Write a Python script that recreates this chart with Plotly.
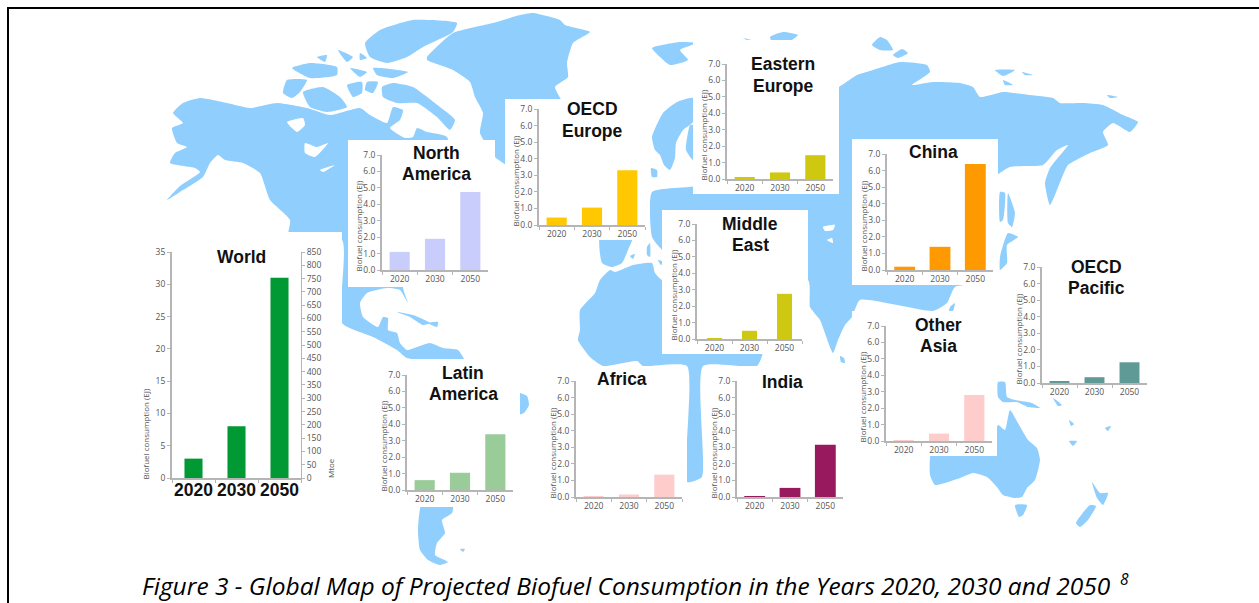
import plotly.graph_objects as go

W, H = 1259, 603
YEARS = ["2020", "2030", "2050"]

# ---------- data ----------
world = [3, 8, 31]
north_america = [1.1, 1.9, 4.75]
latin_america = [0.6, 1.05, 3.4]
oecd_europe = [0.45, 1.05, 3.3]
eastern_europe = [0.1, 0.4, 1.45]
middle_east = [0.05, 0.5, 2.75]
china = [0.2, 1.4, 6.4]
other_asia = [0.05, 0.45, 2.8]
oecd_pacific = [0.1, 0.35, 1.25]
africa = [0.03, 0.15, 1.35]
india = [0.05, 0.55, 3.15]

Y_TITLE = "Biofuel consumption (EJ)"
CAPTION = "Figure 3 - Global Map of Projected Biofuel Consumption in the Years 2020, 2030 and 2050"

# name lines, values, colour, axis left/right/top/bottom px, bar gap, title x, title y's
CHARTS = [
    (["North", "America"], north_america, "#c9cdfb", 382, 488, 155, 270, 0.43, 436, [153, 174]),
    (["Latin", "America"], latin_america, "#99cc99", 407, 513, 375, 490, 0.43, 463, [373, 394]),
    (["OECD", "Europe"], oecd_europe, "#ffc800", 539, 645, 109, 225, 0.43, 592, [109, 131]),
    (["Eastern", "Europe"], eastern_europe, "#cfc810", 727, 833, 64, 179, 0.43, 783, [64, 86]),
    (["Middle", "East"], middle_east, "#cfc810", 697, 802, 224, 339, 0.57, 750, [224, 245]),
    (["China"], china, "#ff9900", 887, 993, 154, 270, 0.41, 933, [152]),
    (["Other", "Asia"], other_asia, "#ffcccc", 886, 992, 326, 441, 0.43, 939, [325, 346]),
    (["OECD", "Pacific"], oecd_pacific, "#5f9a96", 1042, 1147, 267, 383, 0.43, 1096, [267, 288]),
    (["Africa"], africa, "#ffcccc", 576, 682, 381, 497, 0.43, 622, [379]),
    (["India"], india, "#99195e", 737, 843, 381, 497, 0.41, 782, [382]),
]

# ---------- backdrop map outlines (page pixels) ----------
LAND = [
    # North America
    [(167,200),(180,192),(203,177),(210,163),(218,155),(225,160),(243,163),(260,173),(270,200),(290,220),(288,240),
     (342,240),(342,323),(373,337),(397,350),(407,358),(465,362),(458,350),(443,348),(430,343),(417,347),(407,350),
     (400,343),(397,333),(388,330),(388,318),(383,317),(378,327),(363,317),(360,303),(367,293),(387,288),(400,290),
     (408,303),(403,286),(450,200),(447,137),(427,132),(417,128),(413,137),(405,138),(390,128),(400,120),(403,110),
     (393,107),(387,123),(370,115),(360,108),(330,115),(307,108),(277,103),(250,108),(227,103),(200,98),(183,103),
     (173,113),(183,123),(172,128),(177,143),(187,147),(175,153),(170,163),(195,168),(200,172),(180,186)],
    [(397,312),(413,315),(430,323),(423,325),(410,317)],
    [(428,323),(438,322),(437,327)],
    # Arctic Canada
    [(303,92),(323,87),(340,97),(347,107),(327,112),(310,107)],
    [(287,80),(307,80),(300,92),(292,98),(283,93)],
    [(347,85),(362,82),(362,93),(353,97)],
    [(367,82),(378,82),(373,93),(365,90)],
    [(382,87),(393,83),(413,87),(440,107),(455,120),(450,130),(437,117),(417,103),(397,103),(383,97)],
    [(292,68),(310,63),(337,67),(337,75),(310,78)],
    [(338,50),(353,57),(347,62)],
    [(317,57),(327,55),(325,62)],
    [(373,68),(408,72),(393,78),(377,75)],
    [(350,68),(367,72),(360,77)],
    [(360,53),(367,58),(360,60)],
    [(365,43),(380,30),(413,20),(457,23),(453,32),(423,47),(407,57),(387,63),(370,57)],
    # Greenland
    [(427,57),(453,33),(493,23),(520,15),(533,13),(560,20),(565,25),(590,32),(573,43),(567,63),(568,77),(555,87),
     (563,105),(515,105),(515,170),(503,163),(495,157),(480,133),(483,113),(475,97),(470,82),(453,70),(427,60)],
    # South America pieces
    [(516,392),(527,396),(529,405),(524,413),(516,415)],
    [(422,503),(453,503),(452,513),(442,520),(445,533),(437,543),(435,555),(448,562),(440,565),(428,560),(420,550),(418,530)],
    [(460,549),(465,549),(463,552)],
    # Svalbard and Arctic Russia
    [(652,48),(680,42),(697,43),(680,50),(688,60),(670,65),(660,57)],
    [(743,38),(758,42),(753,43)],
    [(770,37),(783,32),(798,35),(787,43),(773,43)],
    [(872,45),(880,37),(887,40),(893,50),(880,50)],
    [(893,55),(902,49),(908,53),(898,58)],
    [(995,70),(1015,70),(1003,76)],
    [(1022,72),(1033,75),(1025,75)],
    [(1003,80),(1013,85),(1005,85)],
    [(1107,95),(1118,97),(1110,98)],
    # Scandinavia
    [(652,137),(663,113),(677,102),(693,98),(693,122),(683,130),(676,143),(675,158),(670,170),(664,165),(660,155),(655,150)],
    [(651,168),(657,170),(657,177),(652,177)],
    [(690,125),(693,125),(693,160),(686,150)],
    # Iberia and islands
    [(600,236),(633,236),(628,250),(622,263),(612,267),(602,263)],
    [(647,247),(650,243),(650,257),(647,255)],
    [(630,256),(635,254),(633,259)],
    [(658,260),(664,262),(661,265)],
    # Africa
    [(610,270),(615,272),(633,265),(652,263),(655,273),(662,280),(700,280),(763,350),(757,366),(703,366),(702,477),
     (687,482),(687,366),(643,366),(637,361),(623,363),(603,366),(590,357),(578,340),(580,330),(580,310),(595,293),(600,280)],
    # Eurasia
    [(652,192),(652,237),(662,250),(700,280),(808,280),(810,307),(820,320),(833,353),(838,340),(845,325),(852,317),
     (860,300),(933,311),(947,303),(955,287),(990,280),(990,182),(1010,167),(1043,165),(1057,150),(1068,145),(1050,168),
     (1045,183),(1050,205),(1063,175),(1068,165),(1090,153),(1108,145),(1103,132),(1113,123),(1130,132),(1138,122),
     (1123,115),(1103,105),(1083,103),(1060,103),(1053,98),(1030,95),(1003,92),(980,97),(973,87),(960,83),(933,82),
     (912,85),(930,72),(927,65),(900,62),(873,70),(857,75),(842,85),(830,92),(800,120),(700,185)],
    [(840,356),(844,358),(845,363),(841,362)],
    # Japan and Sakhalin
    [(1000,192),(1005,193),(1003,220),(1000,222)],
    [(1008,193),(1015,213),(1012,227),(1008,223)],
    [(1008,233),(1018,237),(1007,245),(1007,263),(1000,270),(1000,257)],
    [(950,307),(955,303),(953,311),(949,312)],
    # Oceania
    [(932,450),(990,450),(998,425),(1005,430),(1010,410),(1018,423),(1028,440),(1037,448),(1040,460),(1035,480),(1027,488),
     (1022,497),(1015,498),(1003,495),(997,487),(987,477),(973,473),(960,478),(945,483),(935,485),(930,475)],
    [(1015,505),(1027,505),(1023,515),(1019,517)],
    [(998,382),(1005,382),(1007,397),(1015,400),(1032,403),(1040,408),(1028,407),(1017,402),(1003,402),(998,397)],
    [(1092,482),(1100,493),(1108,493),(1103,505),(1097,498)],
    [(1090,505),(1096,506),(1088,520),(1080,527),(1076,523)],
    [(1053,398),(1062,405),(1058,406)],
    [(1069,441),(1077,441),(1073,446)],
    [(1069,420),(1074,424),(1071,426)],
    [(1105,428),(1111,426),(1108,431)],
]
WATER = [
    [(287,122),(303,118),(305,125),(297,132)],
    [(305,143),(317,147),(328,143),(315,157),(305,153)],
    [(320,170),(335,165),(323,172)],
    [(823,227),(835,225),(833,230),(825,231)],
    [(827,240),(832,238),(833,243)],
]
PANELS = [
    (100,232,342,540),
    (348,140,495,287),(505,99,650,240),(693,40,839,194),(662,210,808,354),(852,139,998,285),
    (852,311,997,456),(545,366,687,510),(703,366,850,510),(375,359,520,507),
]

fig = go.Figure()


def poly(points, colour, smooth=False):
    xs = [p[0] for p in points] + [points[0][0]]
    ys = [p[1] for p in points] + [points[0][1]]
    line = dict(width=0, shape="spline", smoothing=0.5) if smooth else dict(width=0)
    fig.add_trace(go.Scatter(x=xs, y=ys, mode="lines", fill="toself", fillcolor=colour,
                             line=line, hoverinfo="skip", showlegend=False,
                             xaxis="x", yaxis="y"))


for p in LAND:
    poly(p, "#90cffd", smooth=True)
for p in WATER:
    poly(p, "#ffffff", smooth=True)
for (a, b, c, d) in PANELS:
    poly([(a, b), (c, b), (c, d), (a, d)], "#ffffff")

layout = dict(
    template="none",
    width=W, height=H, margin=dict(l=0, r=0, t=0, b=0, pad=0), autosize=False,
    paper_bgcolor="#ffffff", plot_bgcolor="rgba(0,0,0,0)", showlegend=False, barmode="group",
    xaxis=dict(domain=[0, 1], range=[0, W], visible=False, fixedrange=True, automargin=False),
    yaxis=dict(domain=[0, 1], range=[H, 0], visible=False, fixedrange=True, automargin=False),
)
annotations = []
TICK = "#555555"
AXIS = "#b5b5b5"
TICKFONT = dict(family="Open Sans", size=8.5, color=TICK)


def text(x, y, s, size, family="Liberation Sans", colour="#111111", bold=False, italic=False, angle=0, xa="center", ya="middle"):
    if bold:
        s = "<b>%s</b>" % s
    if italic:
        s = "<i>%s</i>" % s
    annotations.append(dict(xref="paper", yref="paper", x=x / W, y=1 - y / H, text=s, showarrow=False,
                            font=dict(family=family, size=size, color=colour), textangle=angle,
                            xanchor=xa, yanchor=ya, borderpad=0, borderwidth=0))


def axes(i, x0, x1, y0, y1, ymax, dtick, fmt, xfont):
    layout["xaxis%d" % i] = dict(
        domain=[x0 / W, x1 / W], anchor="y%d" % i, type="category", categoryorder="array", categoryarray=YEARS,
        range=[-0.5, 2.5], showline=True, linecolor=AXIS, linewidth=2, ticks="outside", ticklen=3, tickcolor=AXIS,
        tickson="boundaries", tickfont=xfont, showgrid=False, zeroline=False, fixedrange=True, tickangle=0, automargin=False)
    layout["yaxis%d" % i] = dict(
        domain=[1 - y1 / H, 1 - y0 / H], anchor="x%d" % i, range=[0, ymax], dtick=dtick, tickformat=fmt,
        showline=True, linecolor=AXIS, linewidth=2, ticks="outside", ticklen=3, tickcolor=AXIS,
        tickfont=TICKFONT, showgrid=False, zeroline=False, fixedrange=True, automargin=False)


idx = 2
for lines, vals, colour, x0, x1, y0, y1, gap, tx, tys in CHARTS:
    axes(idx, x0, x1, y0, y1, 7, 1, ".1f", TICKFONT)
    fig.add_trace(go.Bar(x=YEARS, y=vals, marker=dict(color=colour, line=dict(width=0)), width=1 - gap,
                         xaxis="x%d" % idx, yaxis="y%d" % idx, hoverinfo="skip", showlegend=False))
    for ln, ty in zip(lines, tys):
        text(tx, ty, ln, 17.5, bold=True)
    text(x0 - 24, y1 + 2, Y_TITLE, 8, family="Open Sans", colour=TICK, angle=-90, ya="bottom")
    idx += 1

# World, with its second axis in Mtoe
axes(idx, 172, 301, 252, 478, 35, 5, "d", dict(family="Liberation Sans", size=17.5, color="#111111", weight=700))
layout["xaxis%d" % idx]["ticklabelstandoff"] = -5
fig.add_trace(go.Bar(x=YEARS, y=world, marker=dict(color="#009933", line=dict(width=0)), width=0.42,
                     xaxis="x%d" % idx, yaxis="y%d" % idx, hoverinfo="skip", showlegend=False))
layout["yaxis%d" % (idx + 1)] = dict(
    domain=[1 - 478 / H, 1 - 252 / H], anchor="x%d" % idx, overlaying="y%d" % idx, side="right",
    range=[0, 850], dtick=50, tickformat="d", showline=True, linecolor=AXIS, linewidth=1, ticks="outside",
    ticklen=3, tickcolor=AXIS, tickfont=TICKFONT, showgrid=False, zeroline=False, fixedrange=True, automargin=False)
fig.add_trace(go.Scatter(x=[None], y=[None], xaxis="x%d" % idx, yaxis="y%d" % (idx + 1), hoverinfo="skip", showlegend=False))
text(241, 257, "World", 17.5, bold=True)
text(145, 480, Y_TITLE, 8, family="Open Sans", colour=TICK, angle=-90, ya="bottom")
text(330, 468, "Mtoe", 8, family="Open Sans", colour=TICK, angle=-90)

# caption and footnote marker
text(142, 602, CAPTION, 24.5, family="Open Sans", colour="#000000", italic=True, xa="left", ya="bottom")
text(1124, 579, "8", 15.5, family="Open Sans", colour="#000000", italic=True)

layout["annotations"] = annotations
layout["shapes"] = [
    dict(type="line", xref="paper", yref="paper", x0=7 / W, x1=1, y0=1 - 8 / H, y1=1 - 8 / H, line=dict(color="#000000", width=2)),
    dict(type="line", xref="paper", yref="paper", x0=8 / W, x1=8 / W, y0=1 - 7 / H, y1=0, line=dict(color="#000000", width=2)),
]
fig.update_layout(**layout)
fig.write_html("out.html", post_script="document.body.style.margin='0';document.documentElement.style.overflow='hidden';",
               config={"displayModeBar": False})
